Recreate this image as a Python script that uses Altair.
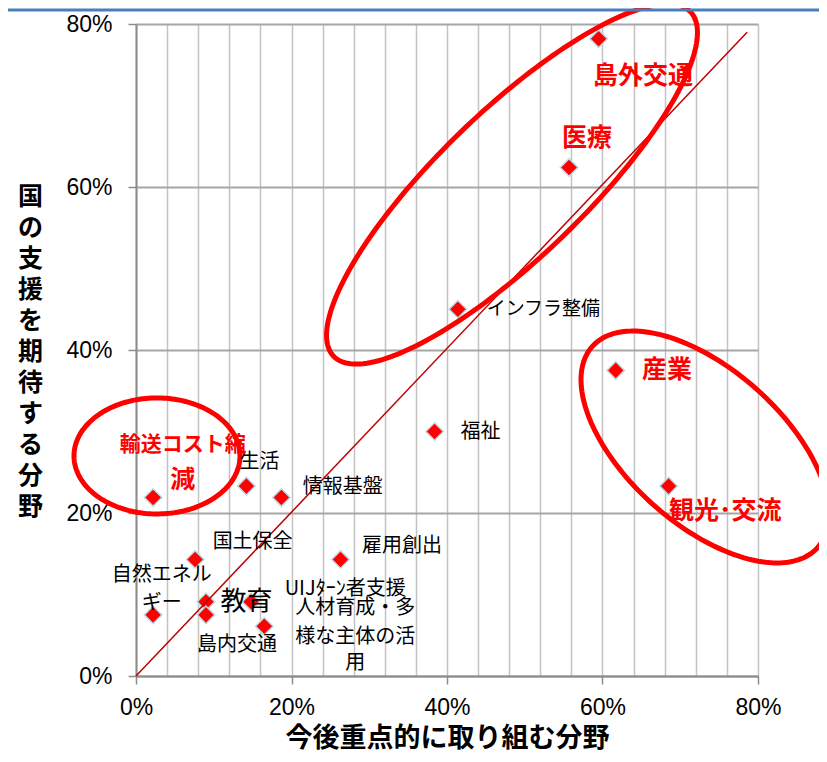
import altair as alt
import pandas as pd
import numpy as np

# ---- data ----
categories = ["島外交通", "医療", "インフラ整備", "産業", "福祉", "観光・交流",
              "輸送コスト縮減", "生活", "情報基盤", "国土保全", "雇用創出",
              "自然エネルギー", "教育", "島内交通", "UIJﾀｰﾝ者支援",
              "人材育成・多様な主体の活用"]
x_vals = [0.595, 0.557, 0.414, 0.617, 0.384, 0.685, 0.022, 0.142, 0.187,
          0.076, 0.263, 0.022, 0.090, 0.090, 0.148, 0.165]
y_vals = [0.782, 0.624, 0.450, 0.375, 0.300, 0.233, 0.219, 0.233, 0.219,
          0.143, 0.143, 0.075, 0.091, 0.075, 0.091, 0.061]

# diagonal reference line (y = x)
diag_x = [0.0, 0.786]
diag_y = [0.0, 0.790]

# highlighted labels (red, bold)
red_text = ["島外交通", "医療", "産業", "観光･交流", "減"]
red_x = [0.652, 0.580, 0.683, 0.758, 0.060]
red_y = [0.736, 0.660, 0.375, 0.202, 0.240]

red_small_text = ["輸送コスト縮"]
red_small_x = [0.060]
red_small_y = [0.283]

# ordinary labels (black)
blk_text = ["福祉", "生活", "情報基盤", "国土保全", "雇用創出", "自然エネル", "ギー",
            "島内交通", "UIJﾀｰﾝ者支援", "人材育成・多", "様な主体の活", "用"]
blk_x = [0.443, 0.159, 0.266, 0.150, 0.342, 0.033, 0.033, 0.130, 0.269,
         0.282, 0.282, 0.282]
blk_y = [0.300, 0.263, 0.232, 0.165, 0.159, 0.124, 0.090, 0.038, 0.107,
         0.084, 0.048, 0.016]

left_text = ["インフラ整備"]
left_x = [0.451]
left_y = [0.450]

big_text = ["教育"]
big_x = [0.142]
big_y = [0.091]

x_ticks = [round(i * 0.04, 2) for i in range(21)]
y_ticks = [0.0, 0.2, 0.4, 0.6, 0.8]

W, H = 622, 652
KX, KY = W / 0.8, H / 0.8  # px per unit


def ellipse(name, cx, cy, a, b, deg, n=200):
    t = np.linspace(0, 2 * np.pi, n)
    th = np.deg2rad(deg)
    dx = a * np.cos(t) * np.cos(th) - b * np.sin(t) * np.sin(th)
    dy = a * np.cos(t) * np.sin(th) + b * np.sin(t) * np.cos(th)
    return pd.DataFrame({"e": name, "i": np.arange(n),
                         "x": cx + dx / KX, "y": cy + dy / KY})


ell = pd.concat([
    ellipse("upper", 0.4836, 0.6037, 248, 73, 44),
    ellipse("right", 0.7318, 0.2810, 151, 77.5, -41.7),
    ellipse("left", 0.0270, 0.2700, 83, 58, 0),
])

JP = "Noto Sans CJK JP"
xs = alt.Scale(domain=[0, 0.8], nice=False, zero=False)
ys = alt.Scale(domain=[0, 0.8], nice=False, zero=False)

x_axis = alt.Axis(
    values=x_ticks, format=".0%",
    labelExpr="round(datum.value*100) % 20 == 0 ? format(datum.value, '.0%') : ''",
    grid=True, gridColor="#c3c3c3", gridWidth=1.5,
    tickSize=8, tickColor="#8c8c8c", tickWidth=1.5,
    tickOpacity={"condition": {"test": "round(datum.value*100) % 20 == 0", "value": 1}, "value": 0},
    domainColor="#8c8c8c", domainWidth=2,
    labelFont="Liberation Sans", labelFontSize=23, labelColor="black",
    labelPadding=12, labelFlush=False,
    title="今後重点的に取り組む分野", titleFont=JP, titleFontSize=27,
    titleFontWeight="bold", titleColor="black",
    titleX=311, titleY=62, titleAlign="center", titleBaseline="middle",
)
y_axis = alt.Axis(
    values=y_ticks, format=".0%",
    grid=True, gridColor="#a6a6a6", gridWidth=2,
    tickSize=8, tickColor="#8c8c8c", tickWidth=1.5,
    domainColor="#8c8c8c", domainWidth=2,
    labelFont="Liberation Sans", labelFontSize=23, labelColor="black",
    labelPadding=16, labelFlush=False,
    title=list("国の支援を期待する分野"), titleFont=JP, titleFontSize=25,
    titleFontWeight="bold", titleColor="black", titleAngle=0,
    titleLineHeight=31, titleX=-106, titleY=160, titleAlign="center",
    titleBaseline="top",
)

X = alt.X("x:Q", scale=xs, axis=x_axis)
Y = alt.Y("y:Q", scale=ys, axis=y_axis)

pts = pd.DataFrame({"cat": categories, "x": x_vals, "y": y_vals})

points = alt.Chart(pts).mark_point(
    shape="diamond", filled=True, size=310, fill="#ff0000",
    stroke="#b9dde6", strokeWidth=1.5, opacity=1
).encode(x=X, y=Y)

diag = alt.Chart(pd.DataFrame({"x": diag_x, "y": diag_y})).mark_line(
    color="#c00000", strokeWidth=1.5
).encode(x=X, y=Y)

ellipses = alt.Chart(ell).mark_line(color="#ff0000", strokeWidth=5).encode(
    x=X, y=Y, detail="e:N", order="i:Q",
)


def text_layer(texts, xv, yv, color, size, weight="normal", align="center"):
    df = pd.DataFrame({"t": texts, "x": xv, "y": yv})
    return alt.Chart(df).mark_text(
        font=JP, fontSize=size, fontWeight=weight, color=color,
        align=align, baseline="middle"
    ).encode(x=X, y=Y, text="t:N")


red_lbl = text_layer(red_text, red_x, red_y, "#ff0000", 25, "bold")
red_small = text_layer(red_small_text, red_small_x, red_small_y, "#ff0000", 21, "bold")
blk_lbl = text_layer(blk_text, blk_x, blk_y, "black", 20)
left_lbl = text_layer(left_text, left_x, left_y, "black", 19, align="left")
big_lbl = text_layer(big_text, big_x, big_y, "black", 26)

top_bar = alt.Chart(pd.DataFrame({"a": [0]})).mark_rule(
    color="#4a7ebb", strokeWidth=3
).encode(x=alt.value(-128), x2=alt.value(683), y=alt.value(-14))

chart = alt.layer(
    points, diag, ellipses, blk_lbl, left_lbl, big_lbl, red_lbl, red_small, top_bar
).properties(
    width=W, height=H, autosize="none",
    padding={"left": 128, "top": 16, "right": 61, "bottom": 78},
    background="white",
).configure_view(strokeWidth=0)

chart.save("out.html", embed_options={"renderer": "svg", "actions": False})
